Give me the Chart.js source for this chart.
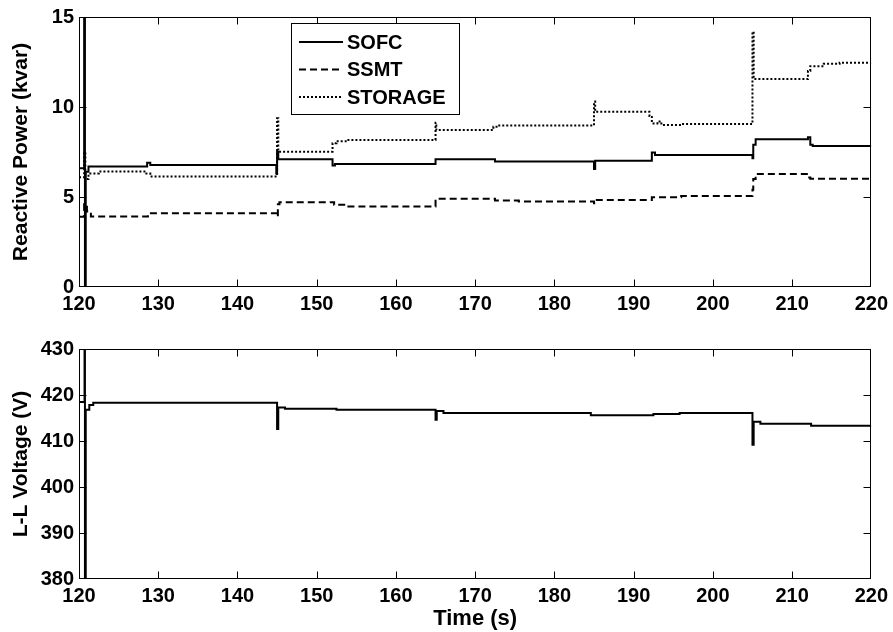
<!DOCTYPE html>
<html>
<head>
<meta charset="utf-8">
<script src="https://cdn.jsdelivr.net/npm/chart.js@4.4.1/dist/chart.umd.min.js"></script>
<style>
  body { margin: 0; background: #fff; }
  canvas { position: absolute; left: 0; }
  #powerChart { top: 0; }
  #voltageChart { top: 320px; }
</style>
</head>
<body>
<canvas id="powerChart" width="893" height="320"></canvas>
<canvas id="voltageChart" width="893" height="312"></canvas>
<script>
// values (time in s, each value holds until the next time)
const sofcTime = [120, 120.65, 120.75, 120.85, 121.2, 128.6, 129.0, 144.9, 145.0, 145.15, 152.0, 152.3, 165.0, 172.5, 185.0, 185.15, 192.3, 192.7, 205.0, 205.1, 205.4, 212.0, 212.3, 212.6, 220];
const sofcValue = [6.6, 20, -5, 6.4, 6.7, 6.9, 6.78, 6.3, 7.5, 7.1, 6.75, 6.84, 7.1, 6.97, 6.55, 7.02, 7.47, 7.34, 7.15, 7.9, 8.21, 8.32, 7.9, 7.84, 7.84];

const ssmtTime = [120, 120.65, 121.0, 121.5, 128.7, 145.0, 145.1, 145.3, 152.2, 154.0, 165.0, 172.5, 175.5, 185.0, 185.15, 192.3, 196.0, 205.0, 205.1, 205.4, 212.0, 212.3, 220];
const ssmtValue = [3.9, 4.6, 4.2, 3.92, 4.1, 3.9, 4.6, 4.71, 4.57, 4.47, 4.9, 4.8, 4.75, 4.65, 4.84, 4.99, 5.06, 5.4, 6.0, 6.28, 6.08, 6.01, 6.01];

const storageTime = [120, 120.65, 120.8, 121.2, 122.5, 128.5, 129.0, 145.0, 145.15, 152.0, 152.5, 154.0, 165.0, 165.1, 172.3, 172.7, 185.0, 185.15, 192.0, 192.3, 193.0, 193.5, 196.0, 205.0, 205.15, 212.0, 212.3, 214.0, 216.0, 220];
const storageValue = [6.1, 7.5, 6.0, 6.3, 6.41, 6.3, 6.14, 9.37, 7.52, 7.99, 8.1, 8.17, 9.13, 8.72, 8.9, 8.97, 10.3, 9.74, 9.5, 9.09, 9.2, 9.0, 9.05, 14.18, 11.55, 12.0, 12.27, 12.4, 12.46, 12.46];

const voltTime = [120, 120.7, 120.75, 120.85, 121.3, 121.8, 145.0, 145.15, 146.0, 152.5, 165.0, 165.15, 166.0, 184.6, 192.5, 195.8, 205.0, 205.15, 206.0, 212.4, 220];
const voltValue = [418.5, 432, 378, 416.8, 417.8, 418.3, 412.6, 417.3, 417.0, 416.8, 414.6, 416.5, 416.1, 415.6, 415.85, 416.1, 409.2, 414.2, 413.75, 413.3, 413.3];

const seriesLabels = ['SOFC', 'SSMT', 'STORAGE'];
const timeMin = 120, timeMax = 220, timeStep = 10;
const powerMin = 0, powerMax = 15, powerStep = 5;
const voltMin = 380, voltMax = 430, voltStep = 10;

Chart.defaults.font.family = '"Liberation Sans", Arial, sans-serif';
Chart.defaults.font.weight = 'bold';
Chart.defaults.font.size = 20;
Chart.defaults.color = '#000';

function toPoints(times, values) {
    return times.map((t, i) => ({ x: t, y: values[i] }));
}

function lineSet(label, times, values, dash) {
    return {
        label: label,
        data: toPoints(times, values),
        stepped: true,
        borderColor: '#000',
        borderWidth: 2,
        borderDash: dash,
        pointRadius: 0,
        fill: false
    };
}

// matlab style frame with inward ticks
const boxPlugin = {
    id: 'boxPlugin',
    afterDatasetsDraw(chart) {
        const ctx = chart.ctx;
        const a = chart.chartArea;
        const x = chart.scales.x, y = chart.scales.y;
        const l = Math.round(a.left) + 0.5, r = Math.round(a.right) - 0.5;
        const t = Math.round(a.top) + 0.5, b = Math.round(a.bottom) - 0.5;
        ctx.save();
        ctx.strokeStyle = '#000';
        ctx.lineWidth = 1;
        ctx.setLineDash([]);
        ctx.strokeRect(l, t, r - l, b - t);
        ctx.beginPath();
        x.ticks.slice(1, -1).forEach(tick => {
            const px = Math.round(x.getPixelForValue(tick.value)) + 0.5;
            ctx.moveTo(px, t); ctx.lineTo(px, t + 7);
            ctx.moveTo(px, b); ctx.lineTo(px, b - 7);
        });
        y.ticks.slice(1, -1).forEach(tick => {
            const py = Math.round(y.getPixelForValue(tick.value)) + 0.5;
            ctx.moveTo(l, py); ctx.lineTo(l + 7, py);
            ctx.moveTo(r, py); ctx.lineTo(r - 7, py);
        });
        ctx.stroke();
        ctx.restore();
    }
};

const legendPlugin = {
    id: 'legendPlugin',
    afterDraw(chart) {
        const ctx = chart.ctx;
        ctx.save();
        ctx.fillStyle = '#fff';
        ctx.fillRect(291, 23, 168, 91);
        ctx.strokeStyle = '#000';
        ctx.lineWidth = 1;
        ctx.strokeRect(291.5, 23.5, 168, 91);
        chart.data.datasets.forEach((ds, i) => {
            const yy = 42 + i * 27.5;
            ctx.setLineDash(ds.borderDash || []);
            ctx.lineWidth = 2;
            ctx.beginPath();
            ctx.moveTo(299, yy);
            ctx.lineTo(343, yy);
            ctx.stroke();
            ctx.setLineDash([]);
            ctx.fillStyle = '#000';
            ctx.font = 'bold 20px "Liberation Sans", Arial, sans-serif';
            ctx.textBaseline = 'middle';
            ctx.fillText(ds.label, 347, yy + 1);
        });
        ctx.restore();
    }
};

function axisX(height, title) {
    return {
        type: 'linear',
        min: timeMin,
        max: timeMax,
        ticks: { stepSize: timeStep, padding: 5, autoSkip: false, maxRotation: 0 },
        grid: { display: false, drawTicks: false },
        border: { display: false },
        title: title ? { display: true, text: title, font: { size: 22 }, padding: { top: 0, bottom: 0 } } : { display: false },
        afterFit: s => { s.height = height; }
    };
}

function axisY(min, max, step, title) {
    return {
        min: min,
        max: max,
        ticks: { stepSize: step, padding: 5 },
        grid: { display: false, drawTicks: false },
        border: { display: false },
        title: { display: true, text: title, font: { size: 21 }, padding: { top: 9, bottom: 0 } },
        afterFit: s => { s.width = 79; }
    };
}

new Chart(document.getElementById('powerChart'), {
    type: 'line',
    data: {
        datasets: [
            lineSet(seriesLabels[0], sofcTime, sofcValue, []),
            lineSet(seriesLabels[1], ssmtTime, ssmtValue, [7, 4]),
            lineSet(seriesLabels[2], storageTime, storageValue, [2, 2])
        ]
    },
    options: {
        responsive: false,
        animation: false,
        devicePixelRatio: 1,
        layout: { padding: { left: 0, top: 17, right: 21, bottom: 0 } },
        plugins: { legend: { display: false }, tooltip: { enabled: false } },
        scales: {
            x: axisX(33, null),
            y: axisY(powerMin, powerMax, powerStep, 'Reactive Power (kvar)')
        }
    },
    plugins: [boxPlugin, legendPlugin]
});

new Chart(document.getElementById('voltageChart'), {
    type: 'line',
    data: {
        datasets: [lineSet('Voltage', voltTime, voltValue, [])]
    },
    options: {
        responsive: false,
        animation: false,
        devicePixelRatio: 1,
        layout: { padding: { left: 0, top: 29, right: 21, bottom: 0 } },
        plugins: { legend: { display: false }, tooltip: { enabled: false } },
        scales: {
            x: axisX(53, 'Time (s)'),
            y: axisY(voltMin, voltMax, voltStep, 'L-L Voltage (V)')
        }
    },
    plugins: [boxPlugin]
});
</script>
</body>
</html>
